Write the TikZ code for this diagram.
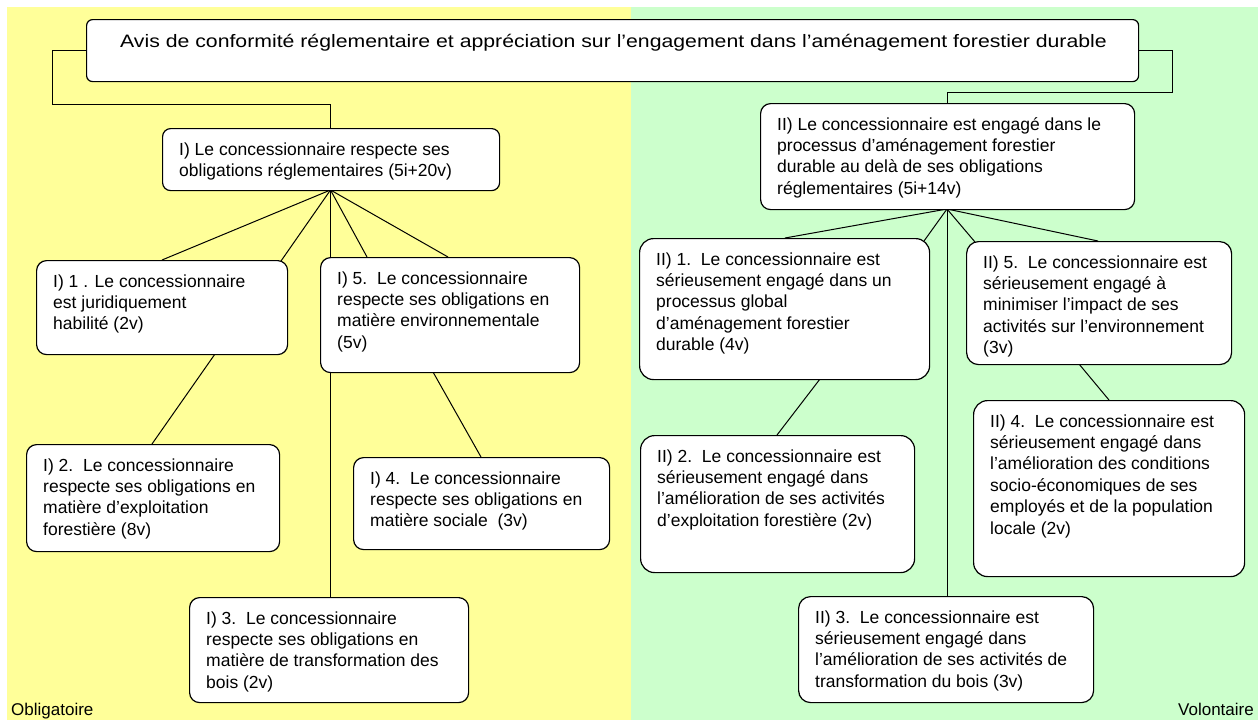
\documentclass[tikz,border=0pt]{standalone}
\usepackage{fontspec}
\usepackage{graphicx}
\setmainfont{Liberation Sans}
\usetikzlibrary{calc}
\definecolor{yel}{RGB}{255,255,153}
\definecolor{grn}{RGB}{204,255,204}
\tikzset{
  bx/.style={draw=black, line width=1.2pt, fill=white, rounded corners=#1, anchor=north west, inner sep=0pt},
  txt/.style={anchor=north west, inner sep=0pt, align=left, font=\fontsize{17.5}{21.4}\selectfont},
  cn/.style={draw=black, line width=1pt},
}
\newcommand{\bxnode}[7]{% name, left, top, right, bottom, radius, text
  \node[bx=#6, minimum width={#4-#2}, minimum height={#5-#3}] (#1) at (#2,#3) {};
  \node[txt] (#1t) at ($(#1.north west)+(17,12)$) {\strut #7};
}
\begin{document}
\begin{tikzpicture}[x=1pt,y=-1pt]
\useasboundingbox (0,0) rectangle (1258,720);
\fill[yel] (7,7) rectangle (631,720);
\fill[grn] (631,7) rectangle (1258,720);

% title box
\node[bx=6, minimum width=1052, minimum height=62] (T) at (86,19) {};
\node[font=\fontsize{18}{21.4}\selectfont, inner sep=0pt, anchor=base west] (Tt) at (120,47) {\scalebox{1.18}[1]{Avis de conformité réglementaire et appréciation sur l’engagement dans l'aménagement forestier durable}};

% connection points
\coordinate (Isouth) at (330.5,190);
\coordinate (Inorth) at (330.5,128);
\coordinate (IIsouth) at (947,209);
\coordinate (IInorth) at (947,103);

% connectors from title
\draw[cn] (T.west) -| (52,104) -| (Inorth);
\draw[cn] (T.east) -| (1172,92) -| (IInorth);

% fan left
\coordinate (I1n) at (162,260);
\coordinate (I1c) at (281,261);
\coordinate (I3n) at (330.5,597);
\coordinate (I5a) at (367,257);
\coordinate (I5b) at (448,257);
\draw[cn] (Isouth) -- (I1n);
\draw[cn] (Isouth) -- (I1c);
\draw[cn] (Isouth) -- (I3n);
\draw[cn] (Isouth) -- (I5a);
\draw[cn] (Isouth) -- (I5b);
\draw[cn] (215,354) coordinate (I1s) -- (152,444) coordinate (I2n);
\draw[cn] (433,372) coordinate (I5s) -- (481,457) coordinate (I4n);

% fan right
\coordinate (II1n) at (785,238);
\coordinate (II1c) at (924,241);
\coordinate (II3n) at (947,596);
\coordinate (II5a) at (975,242);
\coordinate (II5b) at (1098,241);
\draw[cn] (IIsouth) -- (II1n);
\draw[cn] (IIsouth) -- (II1c);
\draw[cn] (IIsouth) -- (II3n);
\draw[cn] (IIsouth) -- (II5a);
\draw[cn] (IIsouth) -- (II5b);
\draw[cn] (820,379) coordinate (II1s) -- (777,435) coordinate (II2n);
\draw[cn] (1079,364) coordinate (II5s) -- (1109,400) coordinate (II4n);

% boxes
\bxnode{I}{162}{128}{499}{190}{8}{I) Le concessionnaire respecte ses\\obligations réglementaires (5i+20v)}
\bxnode{II}{760}{103}{1134}{209}{10}{II) Le concessionnaire est engagé dans le\\processus d'aménagement forestier\\durable au delà de ses obligations\\réglementaires (5i+14v)}
\bxnode{Ia}{36}{260}{287}{354}{10}{I) 1 . Le concessionnaire\\est juridiquement\\habilité (2v)}
\bxnode{Ie}{320}{257}{579}{372}{10}{I) 5.\ \ Le concessionnaire\\respecte ses obligations en\\matière environnementale\\(5v)}
\bxnode{Ib}{26}{444}{279}{551}{10}{I) 2.\ \ Le concessionnaire\\respecte ses obligations en\\matière d’exploitation\\forestière (8v)}
\bxnode{Id}{353}{457}{609}{549}{10}{I) 4.\ \ Le concessionnaire\\respecte ses obligations en\\matière sociale\ \ (3v)}
\bxnode{Ic}{189}{597}{468}{702}{10}{I) 3.\ \ Le concessionnaire\\respecte ses obligations en\\matière de transformation des\\bois (2v)}
\bxnode{IIa}{639}{238}{929}{379}{14}{II) 1.\ \ Le concessionnaire est\\sérieusement engagé dans un\\processus global\\d'aménagement forestier\\durable (4v)}
\bxnode{IIe}{966}{241}{1231}{364}{12}{II) 5.\ \ Le concessionnaire est\\sérieusement engagé à\\minimiser l’impact de ses\\activités sur l’environnement\\(3v)}
\bxnode{IIb}{640}{435}{914}{572}{14}{II) 2.\ \ Le concessionnaire est\\sérieusement engagé dans\\l’amélioration de ses activités\\d'exploitation forestière (2v)}
\bxnode{IId}{973}{400}{1244}{576}{14}{II) 4.\ \ Le concessionnaire est\\sérieusement engagé dans\\l’amélioration des conditions\\socio-économiques de ses\\employés et de la population\\locale (2v)}
\bxnode{IIc}{798}{596}{1093}{702}{12}{II) 3.\ \ Le concessionnaire est\\sérieusement engagé dans\\l’amélioration de ses activités de\\transformation du bois (3v)}

\node[anchor=base west, inner sep=0pt, font=\fontsize{17}{20}\selectfont] (obl) at (11,715.5) {Obligatoire};
\node[anchor=base east, inner sep=0pt, font=\fontsize{17}{20}\selectfont] (vol) at (1254,715.5) {Volontaire};
\end{tikzpicture}
\end{document}
